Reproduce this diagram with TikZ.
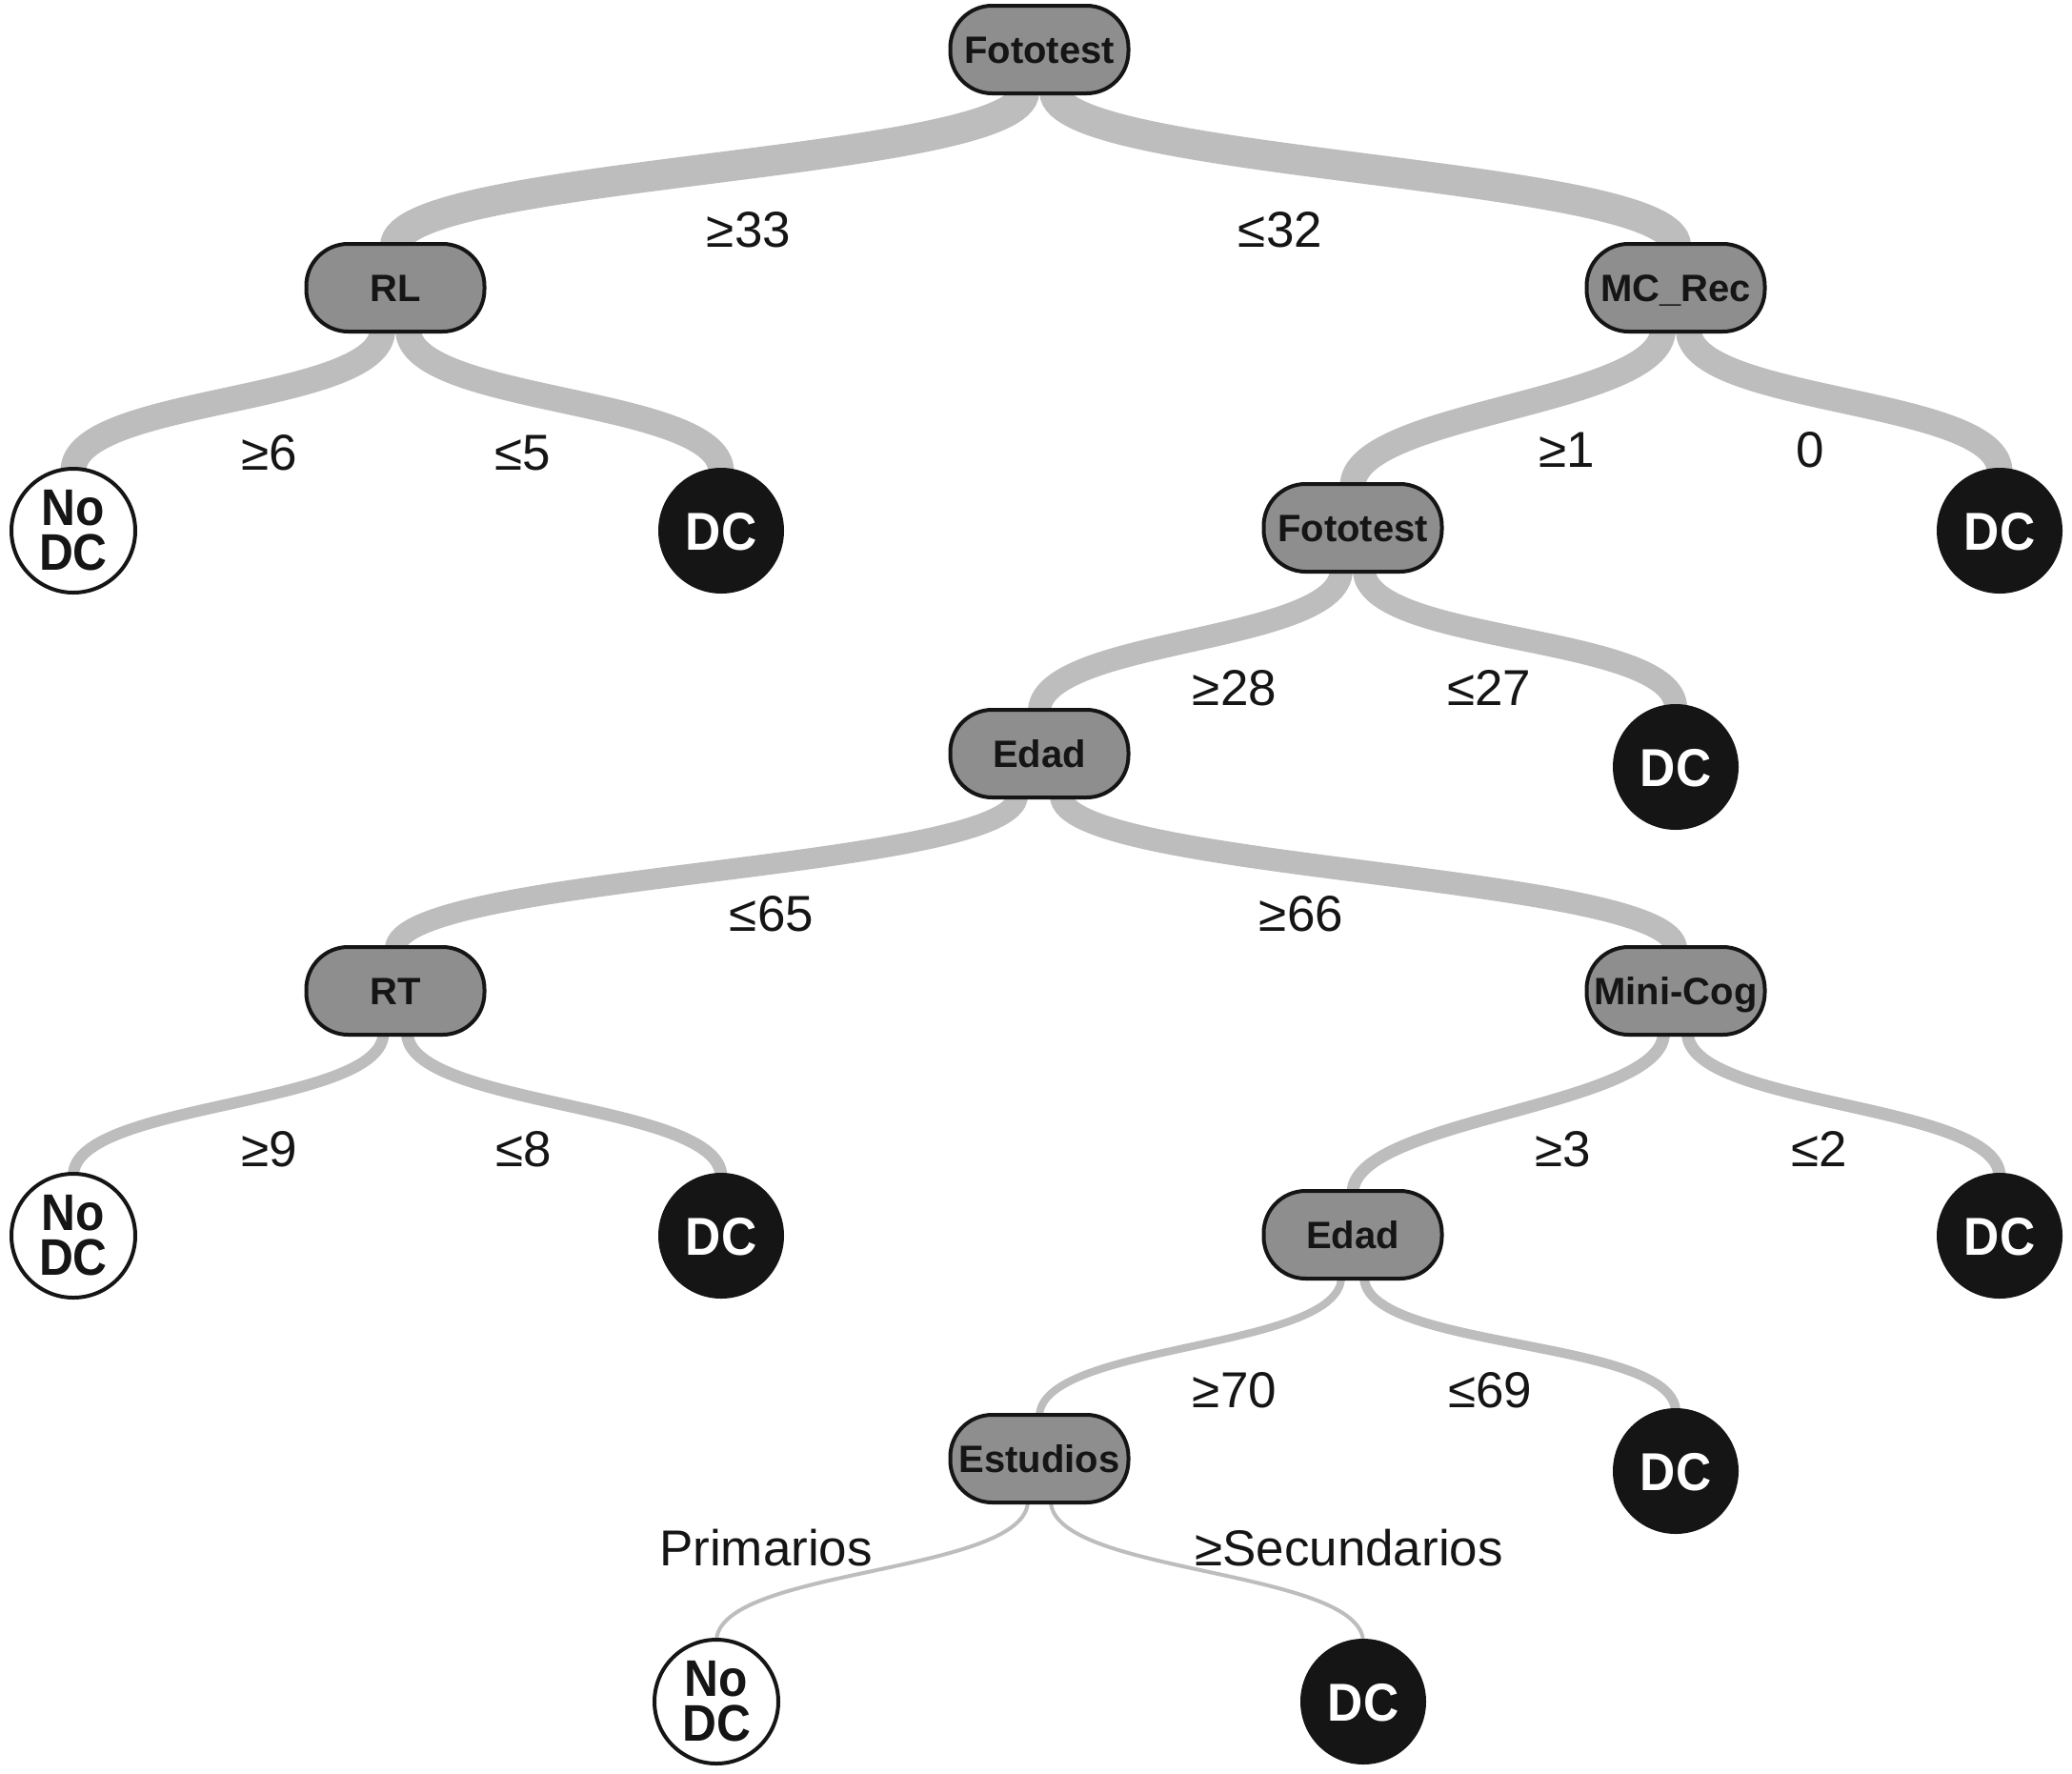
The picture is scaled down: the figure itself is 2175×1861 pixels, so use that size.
\documentclass[tikz,border=0pt]{standalone}
\usepackage{fontspec}
\setmainfont{Liberation Sans}
\newfontfamily\leaffont{Liberation Sans}[FakeStretch=0.92]
\pgfdeclarelayer{bg}
\pgfsetlayers{bg,main}
\definecolor{edgegray}{HTML}{BDBDBD}
\definecolor{boxgray}{HTML}{8E8E8E}
\definecolor{ink}{HTML}{151515}
\tikzset{
  splitbox/.style={draw=ink, line width=4pt, fill=boxgray, rounded corners=44pt,
    minimum width=187pt, minimum height=92pt, inner sep=0pt, text=ink,
    font=\fontsize{40}{40}\selectfont\bfseries, text height=29pt, text depth=0pt},
  dcleaf/.style={circle, fill=ink, draw=ink, line width=2pt, minimum size=130pt,
    inner sep=0pt, text=white, font=\leaffont\fontsize{56}{56}\selectfont\bfseries,
    text height=40pt, text depth=0pt},
  noleaf/.style={circle, fill=white, draw=ink, line width=4pt, minimum size=130pt,
    inner sep=0pt, text=ink, font=\leaffont\fontsize{54}{47}\selectfont\bfseries, align=center},
  cond/.style={font=\fontsize{53}{53}\selectfont, text=ink, inner sep=0pt,
    text height=38pt, text depth=0pt},
  branchline/.style={draw=edgegray, line cap=butt},
}
\newcommand\branch[4]{\draw[branchline, line width=#3pt]
  ([xshift=#4pt,yshift=4pt]#1.south) .. controls +(0,78) and +(0,-78) .. ([yshift=-4pt]#2.north);}
\begin{document}
\begin{tikzpicture}[x=1pt,y=-1pt]
\useasboundingbox (0,0) rectangle (2175,1861);
% split nodes
\node[splitbox] (f1) at (1091,52) {Fototest};
\node[splitbox] (rl) at (415,302) {RL};
\node[splitbox] (mc) at (1759,302) {MC\_Rec};
\node[splitbox] (f2) at (1420,554) {Fototest};
\node[splitbox] (e1) at (1091,791) {Edad};
\node[splitbox] (rt) at (415,1040) {RT};
\node[splitbox] (mg) at (1759,1040) {Mini-Cog};
\node[splitbox] (e2) at (1420,1296) {Edad};
\node[splitbox] (es) at (1091,1531) {Estudios};
% leaves
\node[noleaf] (n1) at (77,557) {No\\DC};
\node[dcleaf] (d1) at (757,557) {DC};
\node[dcleaf] (d2) at (2099,557) {DC};
\node[dcleaf] (d3) at (1759,805) {DC};
\node[noleaf] (n2) at (77,1297) {No\\DC};
\node[dcleaf] (d4) at (757,1297) {DC};
\node[dcleaf] (d5) at (2099,1297) {DC};
\node[dcleaf] (d6) at (1759,1544) {DC};
\node[noleaf] (n3) at (752,1786) {No\\DC};
\node[dcleaf] (d7) at (1431,1786) {DC};
% branches
\begin{pgfonlayer}{bg}
\fill[white] (0,0) rectangle (2175,1861);
\branch{f1}{rl}{32}{-16}
\branch{f1}{mc}{32}{16}
\branch{rl}{n1}{27}{-13.5}
\branch{rl}{d1}{27}{13.5}
\branch{mc}{f2}{27}{-13.5}
\branch{mc}{d2}{27}{13.5}
\branch{f2}{e1}{24}{-12}
\branch{f2}{d3}{24}{12}
\branch{e1}{rt}{22}{-23}
\branch{e1}{mg}{24}{23}
\branch{rt}{n2}{12}{-12.5}
\branch{rt}{d4}{13}{12.5}
\branch{mg}{e2}{13}{-12.5}
\branch{mg}{d5}{13}{12.5}
\branch{e2}{es}{8}{-12}
\branch{e2}{d6}{10}{12}
\branch{es}{n3}{4}{-12}
\branch{es}{d7}{4}{12}
\end{pgfonlayer}
% conditions
\node[cond] (c1) at (786,240) {≥33};
\node[cond] (c2) at (1344,240) {≤32};
\node[cond] (c3) at (283,474) {≥6};
\node[cond] (c4) at (549,474) {≤5};
\node[cond] (c5) at (1645,471) {≥1};
\node[cond] (c6) at (1900,471) {0};
\node[cond] (c7) at (1296,721) {≥28};
\node[cond] (c8) at (1563,721) {≤27};
\node[cond] (c9) at (810,958) {≤65};
\node[cond] (c10) at (1366,958) {≥66};
\node[cond] (c11) at (283,1205) {≥9};
\node[cond] (c12) at (550,1205) {≤8};
\node[cond] (c13) at (1641,1205) {≥3};
\node[cond] (c14) at (1910,1205) {≤2};
\node[cond] (c15) at (1296,1458) {≥70};
\node[cond] (c16) at (1564,1458) {≤69};
\node[cond] (c17) at (804,1624) {Primarios};
\node[cond] (c18) at (1416,1624) {≥Secundarios};
\end{tikzpicture}
\end{document}
